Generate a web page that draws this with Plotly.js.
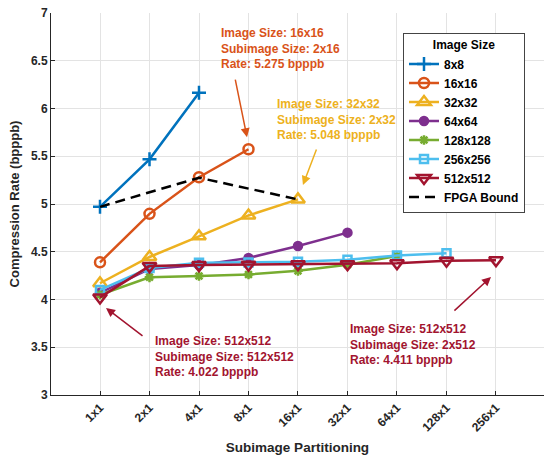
<!DOCTYPE html>
<html>
<head>
<meta charset="utf-8">
<script src="https://cdn.plot.ly/plotly-3.0.1.min.js"></script>
<style>html,body{margin:0;padding:0;background:#fff;}#chart{width:544px;height:455px;}</style>
</head>
<body>
<div id="chart"></div>
<script>
var categories = ['1x1','2x1','4x1','8x1','16x1','32x1','64x1','128x1','256x1'];
var seriesNames = ['8x8','16x16','32x32','64x64','128x128','256x256','512x512'];
var s8 = [4.97, 5.468, 6.166];
var s16 = [4.389, 4.897, 5.28, 5.573];
var s32 = [4.17, 4.445, 4.662, 4.88, 5.048];
var s64 = [4.07, 4.32, 4.36, 4.435, 4.56, 4.70];
var s128 = [4.05, 4.232, 4.246, 4.262, 4.30, 4.365, 4.455];
var s256 = [4.10, 4.33, 4.385, 4.388, 4.395, 4.415, 4.46, 4.485];
var s512 = [4.022, 4.35, 4.36, 4.365, 4.37, 4.37, 4.38, 4.405, 4.411];
var fpgaX = ['1x1','4x1','16x1'];
var fpgaY = [4.97, 5.275, 5.048];
var fpgaName = 'FPGA Bound';

var colors = ['#0072BD','#D95319','#EDB120','#7E2F8E','#77AC30','#4DBEEE','#A2142F'];
var symbols = ['cross-thin-open','circle-open','triangle-up-open','circle','asterisk-open','square-open','triangle-down-open'];
var sizes = [10, 10, 12, 8, 8, 8, 12];
var allSeries = [s8, s16, s32, s64, s128, s256, s512];

var traces = allSeries.map(function(vals, i){
  return {
    x: categories.slice(0, vals.length),
    y: vals,
    name: seriesNames[i],
    type: 'scatter',
    mode: 'lines+markers',
    line: {color: colors[i], width: 2.5},
    marker: {symbol: symbols[i], size: sizes[i], color: colors[i], line: {color: colors[i], width: 2.5}}
  };
});
traces.push({
  x: fpgaX, y: fpgaY, name: fpgaName, type: 'scatter', mode: 'lines',
  line: {color: '#000000', width: 2.5, dash: '10px,6px'}
});

var fnt = {family: 'Liberation Sans, Arial, sans-serif', size: 12, weight: 'bold'};
function note(text, x, y, color){
  return {text: text, x: x, y: y, xref: 'x', yref: 'y', xanchor: 'left', yanchor: 'middle',
          align: 'left', showarrow: false, font: {family: fnt.family, size: 12, color: color, weight: 'bold'}};
}
function arrow(x0, y0, x1, y1, color){
  return {text: '', x: x1, y: y1, ax: x0, ay: y0, xref: 'x', yref: 'y', axref: 'x', ayref: 'y',
          showarrow: true, arrowhead: 2, arrowsize: 1.2, arrowwidth: 1.5, arrowcolor: color};
}

var layout = {
  width: 544, height: 455,
  margin: {l: 51, r: 0, t: 13, b: 60},
  paper_bgcolor: '#ffffff', plot_bgcolor: '#ffffff',
  font: {family: fnt.family, size: 12, color: '#262626'},
  showlegend: true,
  xaxis: {
    type: 'category', categoryorder: 'array', categoryarray: categories,
    range: [-0.99, 8.97], tickangle: -45,
    tickfont: {family: fnt.family, size: 12, weight: 'bold', color: '#262626'},
    showgrid: true, gridcolor: '#e3e3e3', gridwidth: 1,
    showline: true, linecolor: '#262626', linewidth: 1,
    ticks: 'inside', ticklen: 4, tickcolor: '#262626', zeroline: false,
    title: {text: 'Subimage Partitioning', font: {family: fnt.family, size: 13.5, weight: 'bold', color: '#262626'}, standoff: 13}
  },
  yaxis: {
    range: [3, 7], dtick: 0.5,
    tickfont: {family: fnt.family, size: 12, weight: 'bold', color: '#262626'},
    showgrid: true, gridcolor: '#e3e3e3', gridwidth: 1,
    showline: true, linecolor: '#262626', linewidth: 1,
    ticks: 'inside', ticklen: 4, tickcolor: '#262626', zeroline: false,
    title: {text: 'Compression Rate (bpppb)', font: {family: fnt.family, size: 13, weight: 'bold', color: '#262626'}, standoff: 8}
  },
  legend: {
    x: 0.714, y: 0.948, xanchor: 'left', yanchor: 'top',
    bgcolor: '#ffffff', bordercolor: '#444444', borderwidth: 1,
    font: {family: fnt.family, size: 12, weight: 'bold', color: '#000'},
    title: {text: 'Image Size', side: 'top center', font: {family: fnt.family, size: 12, weight: 'bold', color: '#000'}},
    tracegroupgap: 0
  },
  shapes: [
    {type: 'line', xref: 'paper', yref: 'paper', x0: 0.714, x1: 0.957, y0: 0.893, y1: 0.893,
     line: {color: '#444444', width: 1}, layer: 'above'}
  ],
  annotations: [
    note('Image Size: 16x16<br>Subimage Size: 2x16<br>Rate: 5.275 bpppb', 2.40, 6.628, '#D95319'),
    arrow(2.727, 6.319, 2.97, 5.70, '#D95319'),
    note('Image Size: 32x32<br>Subimage Size: 2x32<br>Rate: 5.048 bpppb', 3.53, 5.885, '#EDB120'),
    arrow(4.384, 5.586, 4.10, 5.199, '#EDB120'),
    note('Image Size: 512x512<br>Subimage Size: 512x512<br>Rate: 4.022 bpppb', 1.08, 3.408, '#A2142F'),
    arrow(0.889, 3.607, 0.121, 3.911, '#A2142F'),
    note('Image Size: 512x512<br>Subimage Size: 2x512<br>Rate: 4.411 bpppb', 5.02, 3.526, '#A2142F'),
    arrow(7.13, 3.869, 7.899, 4.236, '#A2142F')
  ]
};

Plotly.newPlot('chart', traces, layout, {displayModeBar: false, staticPlot: true});
</script>
</body>
</html>
